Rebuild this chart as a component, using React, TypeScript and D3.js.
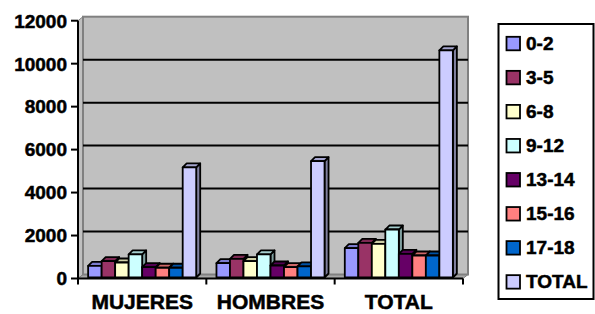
import React from "react";
import * as d3 from "d3";

const categories = ["MUJERES", "HOMBRES", "TOTAL"];
const series = ["0-2", "3-5", "6-8", "9-12", "13-14", "15-16", "17-18", "TOTAL"];
const colors = ["#9999FF", "#993366", "#FFFFCC", "#CCFFFF", "#660066", "#FF8080", "#0066CC", "#CCCCFF"];
// values[series][category]
const values = [
  [590, 713, 1410],
  [805, 918, 1660],
  [745, 805, 1615],
  [1120, 1120, 2280],
  [525, 605, 1150],
  [500, 525, 1070],
  [500, 560, 1070],
  [5170, 5460, 10620],
];
const yTicks = [0, 2000, 4000, 6000, 8000, 10000, 12000];

const W = 595;
const H = 314;
const left = 78;
const right = 463;
const bottom = 278.5;
const top = 20.7;
const wallDx = 5;
const wallDy = -4;
const barDx = 4;
const barDy = -4;
const font = "'Liberation Sans', Arial, sans-serif";

export default function App() {
  const y = d3.scaleLinear().domain([0, 12000]).range([bottom, top]);
  const x0 = d3.scaleBand<string>().domain(categories).range([left, right]);
  const x1 = d3
    .scaleBand<string>()
    .domain(series)
    .range([0, x0.bandwidth()])
    .paddingInner(0)
    .paddingOuter(0.75);
  const bw = x1.bandwidth();

  const wallL = left + wallDx;
  const wallR = right + wallDx;
  const wallT = y(12000) + wallDy;
  const wallB = bottom + wallDy;

  // heavier look, like the old office rendering
  const txt = { fontWeight: "bold" as const, stroke: "#000", strokeWidth: 0.5 };

  return (
    <svg
      width={W}
      height={H}
      style={{ position: "absolute", left: 0, top: 0, fontFamily: font }}
    >
      <rect width={W} height={H} fill="#fff" />
      {/* side wall */}
      <polygon
        points={`${left},${top} ${wallL},${wallT} ${wallL},${wallB} ${left},${bottom}`}
        fill="#C0C0C0"
        stroke="#808080"
        strokeWidth={1}
      />
      {/* floor */}
      <polygon
        points={`${left},${bottom} ${wallL},${wallB} ${wallR},${wallB} ${right},${bottom}`}
        fill="#A8A8A8"
        stroke="#808080"
        strokeWidth={1}
      />
      {/* back wall */}
      <rect
        x={wallL}
        y={wallT}
        width={wallR - wallL}
        height={wallB - wallT}
        fill="#C0C0C0"
        stroke="#808080"
        strokeWidth={2}
      />
      {yTicks.slice(1, -1).map((t) => (
        <line
          key={t}
          x1={wallL}
          x2={wallR}
          y1={y(t) + wallDy}
          y2={y(t) + wallDy}
          stroke="#000"
          strokeWidth={2}
        />
      ))}
      {/* bars */}
      {categories.map((c, ci) =>
        series.map((s, si) => {
          const bx = (x0(c) || 0) + (x1(s) || 0);
          const by = y(values[si][ci]);
          const col = d3.color(colors[si])!;
          const topCol = col.darker(0.6).formatHex();
          const sideCol = col.darker(1.3).formatHex();
          return (
            <g key={c + s} stroke="#000" strokeWidth={1.8} strokeLinejoin="round">
              <polygon
                points={`${bx + bw},${by} ${bx + bw + barDx},${by + barDy} ${bx + bw + barDx},${bottom - 1 + barDy} ${bx + bw},${bottom - 1}`}
                fill={sideCol}
              />
              <polygon
                points={`${bx},${by} ${bx + barDx},${by + barDy} ${bx + bw + barDx},${by + barDy} ${bx + bw},${by}`}
                fill={topCol}
              />
              <rect x={bx} y={by} width={bw} height={bottom - 1 - by} fill={colors[si]} />
            </g>
          );
        })
      )}
      {/* axes */}
      <line x1={left} x2={left} y1={top} y2={bottom} stroke="#000" strokeWidth={2} />
      <line x1={left} x2={right} y1={bottom} y2={bottom} stroke="#000" strokeWidth={2} />
      {yTicks.map((t) => (
        <g key={t}>
          <line x1={left - 7} x2={left} y1={y(t)} y2={y(t)} stroke="#000" strokeWidth={2} />
          <text x={left - 11} y={y(t)} dy="0.36em" textAnchor="end" fontSize={19} {...txt}>
            {t}
          </text>
        </g>
      ))}
      {[left, ...categories.map((c) => (x0(c) || 0) + x0.bandwidth())].map((tx, i) => (
        <line key={i} x1={tx} x2={tx} y1={bottom} y2={bottom + 6} stroke="#000" strokeWidth={2} />
      ))}
      {categories.map((c) => (
        <text
          key={c}
          x={(x0(c) || 0) + x0.bandwidth() / 2}
          y={308.5}
          textAnchor="middle"
          fontSize={21}
          {...txt}
        >
          {c}
        </text>
      ))}
      {/* legend */}
      <rect x={498.5} y={24} width={95} height={275} fill="#fff" stroke="#000" strokeWidth={2} />
      {series.map((s, i) => {
        const cy = 43.3 + i * 34.05;
        return (
          <g key={s}>
            <rect x={506.5} y={cy - 6.5} width={13.5} height={13.5} fill={colors[i]} stroke="#000" strokeWidth={1.8} />
            <text x={526} y={cy} dy="0.36em" fontSize={19} {...txt}>
              {s}
            </text>
          </g>
        );
      })}
    </svg>
  );
}
